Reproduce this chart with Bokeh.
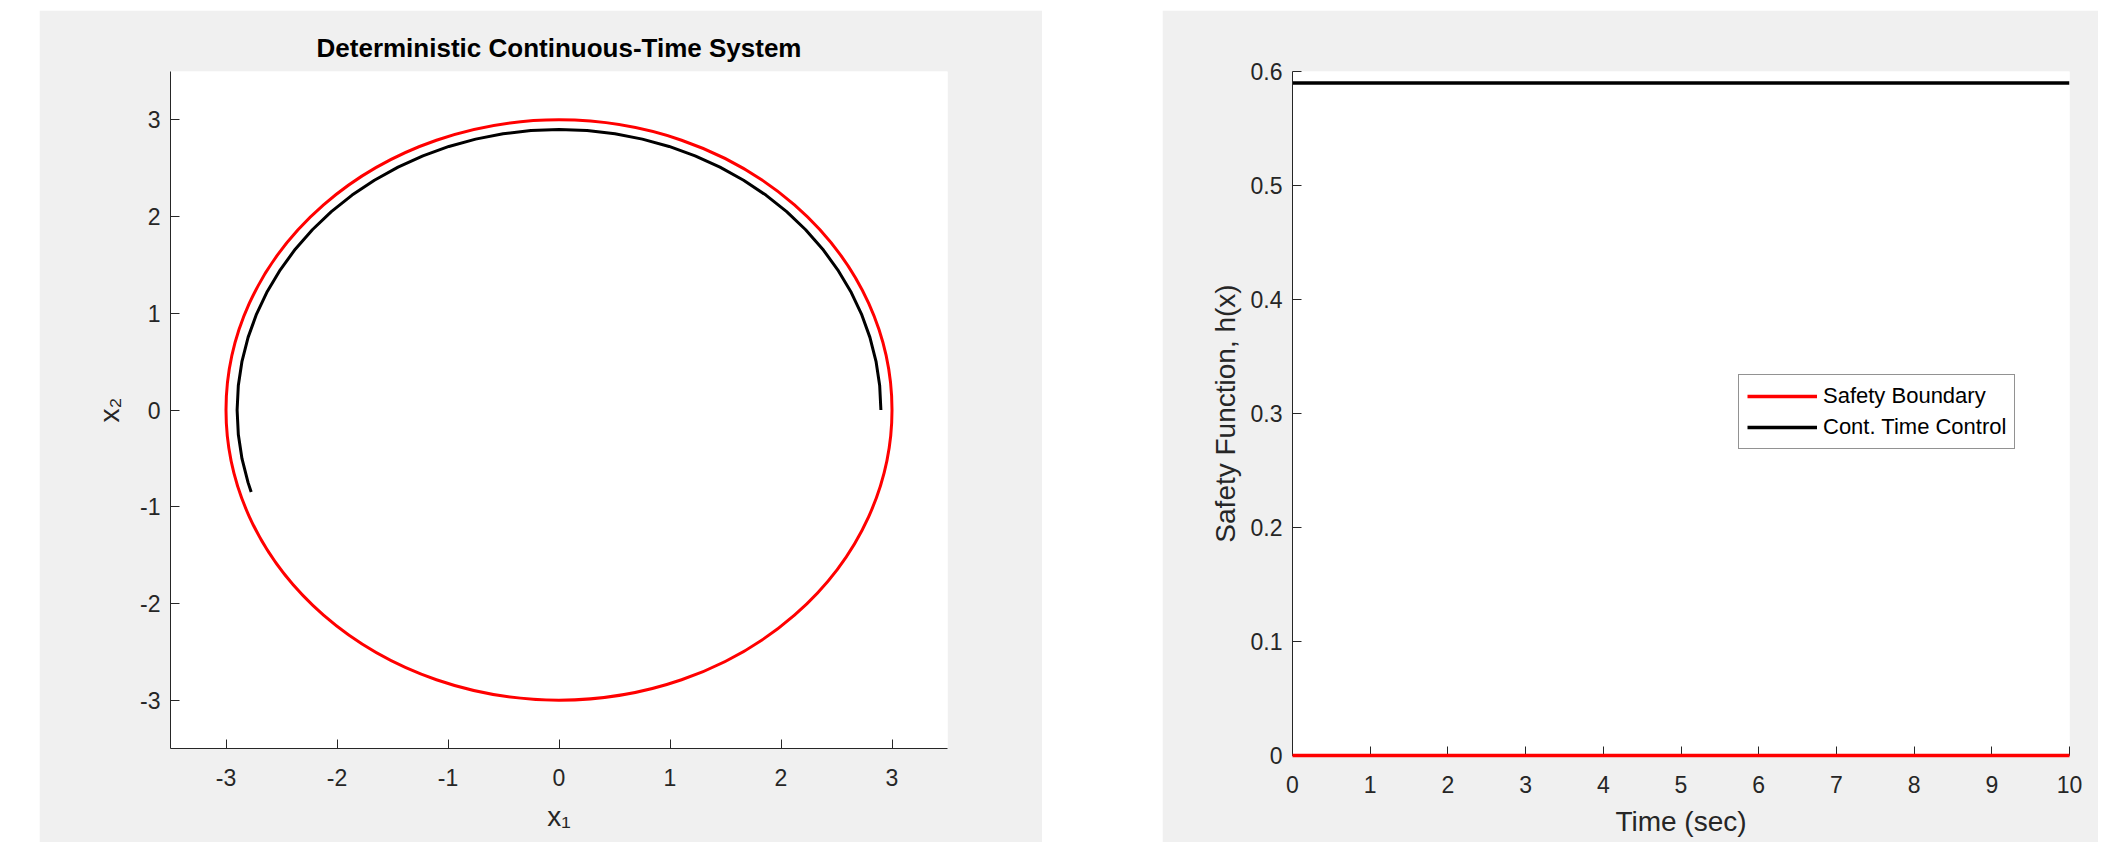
from bokeh.plotting import figure
from bokeh.layouts import row, column, Spacer
from bokeh.models import FixedTicker, Legend, LegendItem, Range1d
from bokeh.embed import file_html
from bokeh.resources import INLINE

# ---- data ----
boundary_center = (0.0, 0.0)
boundary_radius = 3.0

traj_x1 = [2.900, 2.889, 2.856, 2.801, 2.725, 2.628, 2.511, 2.376, 2.222, 2.051,
           1.864, 1.663, 1.450, 1.226, 0.992, 0.751, 0.504, 0.253, 0.000,
           -0.253, -0.504, -0.751, -0.992, -1.226, -1.450, -1.663, -1.864, -2.051,
           -2.222, -2.376, -2.511, -2.628, -2.725, -2.801, -2.856, -2.889, -2.900,
           -2.889, -2.856, -2.801, -2.773]
traj_x2 = [0.000, 0.253, 0.504, 0.751, 0.992, 1.226, 1.450, 1.663, 1.864, 2.051,
           2.222, 2.376, 2.511, 2.628, 2.725, 2.801, 2.856, 2.889, 2.900,
           2.889, 2.856, 2.801, 2.725, 2.628, 2.511, 2.376, 2.222, 2.051,
           1.864, 1.663, 1.450, 1.226, 0.992, 0.751, 0.504, 0.253, 0.000,
           -0.253, -0.504, -0.751, -0.848]

time_sec = [0, 10]
safety_boundary = [0.0, 0.0]
cont_time_control = [0.59, 0.59]

phase_ticks = [-3, -2, -1, 0, 1, 2, 3]
phase_tick_labels = ["-3", "-2", "-1", "0", "1", "2", "3"]
time_ticks = [0, 1, 2, 3, 4, 5, 6, 7, 8, 9, 10]
h_ticks = [0, 0.1, 0.2, 0.3, 0.4, 0.5, 0.6]
h_tick_labels = ["0", "0.1", "0.2", "0.3", "0.4", "0.5", "0.6"]

FONT = "Liberation Sans"
AX = "#262626"
BG = "#f0f0f0"


def style_axes(p, xl_standoff, yl_standoff):
    p.grid.visible = False
    for ax in (p.xaxis[0], p.yaxis[0]):
        ax.axis_line_color = AX
        ax.axis_line_width = 1
        ax.major_tick_line_color = AX
        ax.major_tick_line_width = 1
        ax.major_tick_in = 9
        ax.major_tick_out = 0
        ax.minor_tick_in = 0
        ax.minor_tick_out = 0
        ax.major_label_text_font = FONT
        ax.major_label_text_font_size = "23px"
        ax.major_label_text_color = AX
        ax.axis_label_text_font = FONT
        ax.axis_label_text_font_size = "28px"
        ax.axis_label_text_font_style = "normal"
        ax.axis_label_text_color = AX
    p.xaxis[0].major_label_standoff = 20
    p.yaxis[0].major_label_standoff = 10
    p.xaxis[0].axis_label_standoff = xl_standoff
    p.yaxis[0].axis_label_standoff = yl_standoff


# ---- left: phase portrait ----
p1 = figure(frame_width=777, frame_height=677,
            x_range=Range1d(-3.5, 3.5), y_range=Range1d(-3.5, 3.5),
            output_backend="svg", toolbar_location=None,
            min_border_left=131, min_border_right=95,
            min_border_top=61, min_border_bottom=94,
            background_fill_color="white", border_fill_color=BG,
            outline_line_color=None)
p1.title.text = "Deterministic Continuous-Time System"
p1.title.align = "center"
p1.title.text_font = FONT
p1.title.text_font_size = "26px"
p1.title.text_font_style = "bold"
p1.title.text_color = "black"
p1.title.standoff = 18

p1.ellipse(x=[boundary_center[0]], y=[boundary_center[1]],
           width=[2 * boundary_radius], height=[2 * boundary_radius],
           fill_color=None, line_color="#ff0000", line_width=3)
p1.line(traj_x1, traj_x2, line_color="black", line_width=3, line_join="round")

p1.xaxis.ticker = FixedTicker(ticks=phase_ticks)
p1.yaxis.ticker = FixedTicker(ticks=phase_ticks)
p1.xaxis.major_label_overrides = dict(zip(phase_ticks, phase_tick_labels))
p1.yaxis.major_label_overrides = dict(zip(phase_ticks, phase_tick_labels))
p1.xaxis.axis_label = "x\u2081"
p1.yaxis.axis_label = "x\u2082"
style_axes(p1, 12, 12)

# ---- right: safety function ----
p2 = figure(frame_width=777, frame_height=684,
            x_range=Range1d(0, 10), y_range=Range1d(0, 0.6),
            output_backend="svg", toolbar_location=None,
            min_border_left=130, min_border_right=29,
            min_border_top=61, min_border_bottom=87,
            background_fill_color="white", border_fill_color=BG,
            outline_line_color=None)
r_red = p2.line(time_sec, safety_boundary, line_color="#ff0000", line_width=3.5,
                level="overlay")
r_blk = p2.line(time_sec, cont_time_control, line_color="black", line_width=3.5)

p2.xaxis.ticker = FixedTicker(ticks=time_ticks)
p2.yaxis.ticker = FixedTicker(ticks=h_ticks)
p2.yaxis.major_label_overrides = dict(zip(h_ticks, h_tick_labels))
p2.xaxis.axis_label = "Time (sec)"
p2.yaxis.axis_label = "Safety Function, h(x)"
style_axes(p2, 10, 7)

legend = Legend(items=[LegendItem(label="Safety Boundary", renderers=[r_red]),
                       LegendItem(label="Cont. Time Control", renderers=[r_blk])],
                location=(446, 306), margin=0, padding=8, spacing=5,
                glyph_width=70, glyph_height=26, label_height=26, label_standoff=6,
                label_text_font=FONT, label_text_font_size="22px",
                label_text_color="black",
                border_line_color=AX, border_line_width=1,
                background_fill_color="white", background_fill_alpha=1)
p2.add_layout(legend)

layout = column(Spacer(height=10),
                row(Spacer(width=39), p1, Spacer(width=120), p2))

open("out.html", "w").write(file_html(layout, INLINE))
